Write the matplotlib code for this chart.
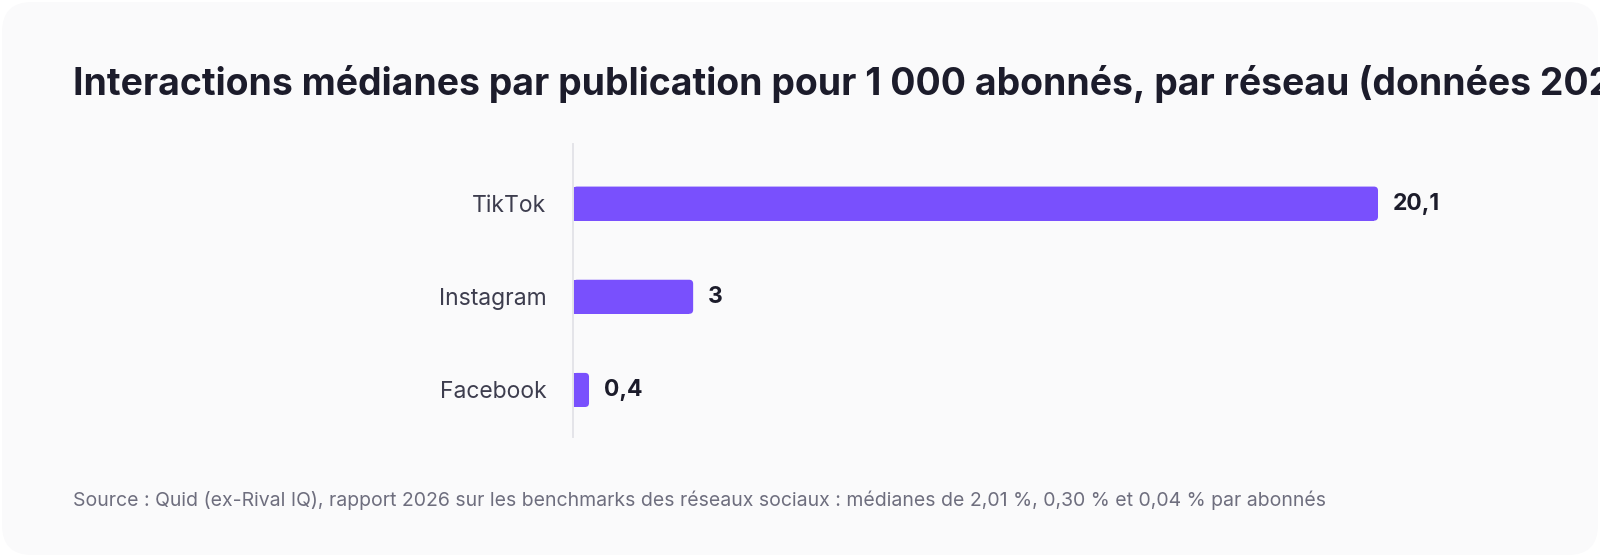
import matplotlib
matplotlib.use('Agg')
import matplotlib.pyplot as plt
from matplotlib.patches import FancyBboxPatch

# data
networks = ['TikTok', 'Instagram', 'Facebook']
values = [20.1, 3.0, 0.4]
value_labels = ['20,1', '3', '0,4']

title = 'Interactions médianes par publication pour 1\u00a0000 abonnés, par réseau (données 2025)'
source = ('Source : Quid (ex-Rival IQ), rapport 2026 sur les benchmarks des réseaux sociaux : '
          'médianes de 2,01 %, 0,30 % et 0,04 % par abonnés')

plt.rcParams['font.family'] = ['Inter', 'DejaVu Sans']

W, H = 1600, 557
fig = plt.figure(figsize=(W / 100, H / 100), dpi=100)
fig.patch.set_facecolor('white')

# rounded card behind everything
card = FancyBboxPatch((2 / W, 2 / H), 1 - 4 / W, 1 - 4 / H,
                      boxstyle='round,pad=0,rounding_size=%f' % (30 / W),
                      mutation_aspect=W / H, transform=fig.transFigure,
                      facecolor='#fafafb', edgecolor='none', zorder=-10)
fig.patches.append(card)

ax = fig.add_axes([573 / W, 1 - 437 / H, 987 / W, 293 / H])
ax.set_facecolor('none')

bar_color = '#7950fd'
bar_h = 0.366
r_x = 0.1                      # corner radius in data x units (~4 px)
ys = list(range(len(networks)))
# square left part + rounded full bar
ax.barh(ys, [max(v - r_x, 0) for v in values], height=bar_h, color=bar_color, zorder=2)
for y, v in zip(ys, values):
    p = FancyBboxPatch((0, y - bar_h / 2), v, bar_h,
                       boxstyle='round,pad=0,rounding_size=%f' % r_x,
                       mutation_aspect=0.43, facecolor=bar_color, edgecolor='none', zorder=2)
    ax.add_patch(p)

for y, v, lab in zip(ys, values, value_labels):
    ax.annotate(lab, (v, y), xytext=(10.8, 0), textcoords='offset points',
                ha='left', va='center', fontsize=16.5, fontweight='bold', color='#1c1c2b')

ax.set_xlim(0, 987 / 40.05)
ax.set_ylim(2.505, -0.64)
ax.set_yticks(ys)
ax.set_yticklabels(networks, fontsize=16.5, color='#3d3d4e')
ax.tick_params(axis='y', length=0, pad=19)
ax.set_xticks([])
for s in ['top', 'right', 'bottom']:
    ax.spines[s].set_visible(False)
ax.spines['left'].set_color('#e4e4e9')
ax.spines['left'].set_linewidth(1.4)

# title runs past the right edge, as in the reference
fig.text(73 / W, 1 - 95 / H, title, fontsize=26.9, fontweight='bold', color='#1c1c2b',
         ha='left', va='baseline')
fig.text(73 / W, 1 - 506 / H, source, fontsize=14, color='#6e6e7e',
         ha='left', va='baseline')

fig.savefig('out.png', dpi=100)
